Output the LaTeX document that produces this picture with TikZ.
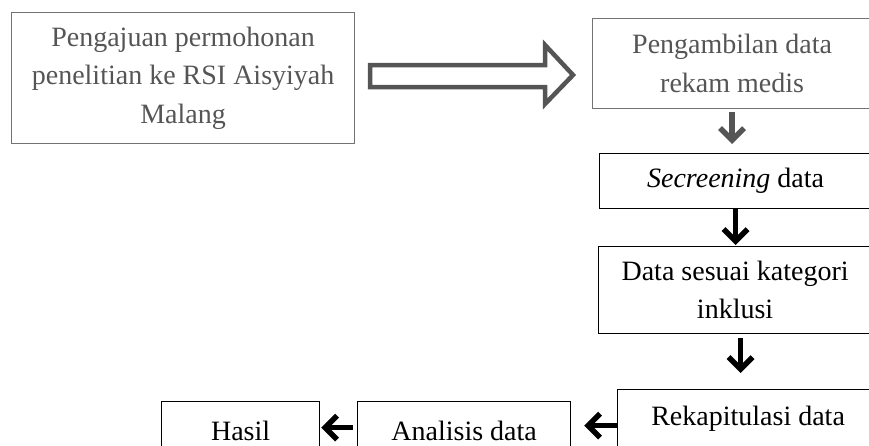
\documentclass[tikz,border=0pt]{standalone}
\usepackage{fontspec}
\setmainfont{Liberation Serif}
\usetikzlibrary{arrows.meta}
\definecolor{fadegray}{RGB}{85,85,85}
\definecolor{edgegray}{RGB}{115,115,115}
\tikzset{
  stepbox/.style={draw, line width=1.2pt, align=center, inner sep=0pt, anchor=north west,
    font=\fontsize{28}{38.5}\selectfont},
  flow/.style={line width=5.5pt, -{Straight Barb[length=12pt,width=24pt]}}
}
\begin{document}
\begin{tikzpicture}[x=1pt,y=-1pt]
		\useasboundingbox (0,0) rectangle (869,445);
		\clip (0,0) rectangle (869,445);
		% top row
		\node[stepbox, draw=edgegray, text=fadegray, minimum width=343pt, minimum height=131pt] (ajuan) at (11,12) {Pengajuan permohonan\\penelitian ke RSI Aisyiyah\\Malang};
		\node[stepbox, draw=edgegray, text=fadegray, minimum width=279pt, minimum height=90pt] (ambil) at (592,18) {Pengambilan data\\rekam medis};
		\draw[line width=4.5pt, draw=fadegray, miter limit=10] (370,65) -- (545,65) -- (545,45) -- (573,75) -- (545,104) -- (545,87) -- (370,87) -- cycle;
		% right column
		\node[stepbox, minimum width=272pt, minimum height=55pt] (seleksi) at (599,153) {\textit{Secreening} data};
		\node[stepbox, minimum width=273pt, minimum height=87pt] (inklusi) at (598,246) {Data sesuai kategori\\inklusi};
		\node[stepbox, minimum width=261pt, minimum height=58pt] (rekap) at (617,389) {Rekapitulasi data};
		% bottom row
		\node[stepbox, minimum width=213pt, minimum height=58pt] (analisis) at (357,401) {Analisis data};
		\node[stepbox, minimum width=158pt, minimum height=58pt] (hasil) at (161,401) {Hasil};
		% connectors
		\draw[flow, draw=fadegray, shorten <=3pt, shorten >=9pt] (ambil.south) -- (ambil.south |- seleksi.north);
		\draw[flow, shorten >=1pt] (seleksi.south) -- (seleksi.south |- inklusi.north);
		\draw[flow] ([xshift=5.5pt,yshift=-4pt]inklusi.south) -- ([xshift=-7.5pt,yshift=16pt]rekap.north);
		\draw[flow, shorten >=13pt] ([yshift=-7pt]rekap.west) -- ([yshift=-7pt]rekap.west -| analisis.east);
		\draw[flow, shorten <=4pt, shorten >=1pt] ([yshift=3pt]analisis.west) -- ([yshift=3pt]hasil.east);
		\end{tikzpicture}
\end{document}
